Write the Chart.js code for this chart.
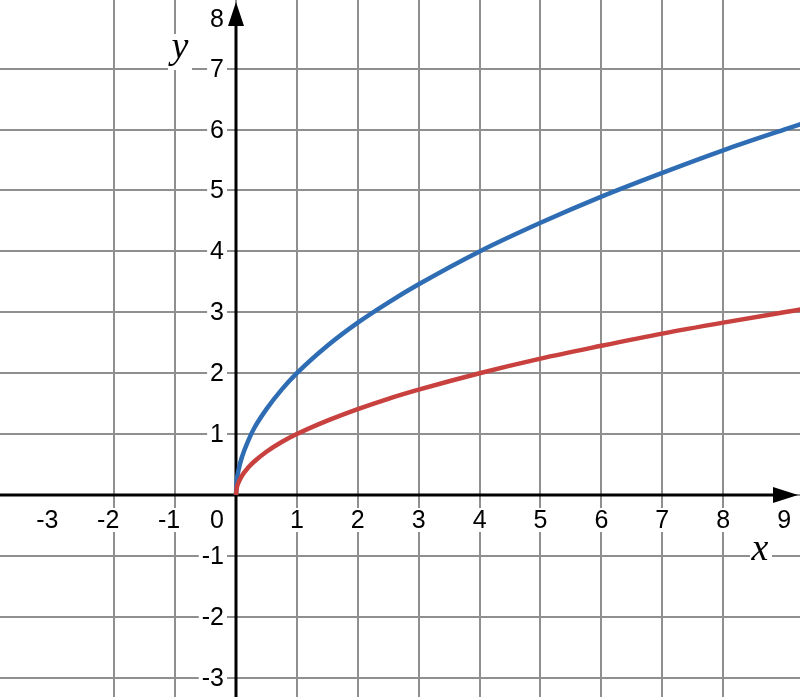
<!DOCTYPE html>
<html lang="en">
<head>
    <meta charset="UTF-8">
    <title>y = √x and y = 2√x</title>
    <script src="https://cdn.jsdelivr.net/npm/chart.js@4.4.1/dist/chart.umd.min.js"></script>
    <style>
        body {
            margin: 0;
            background: #ffffff;
        }
        .chart-wrapper {
            position: relative;
            width: 800px;
            height: 697px;
        }
    </style>
</head>
<body>
    <div class="chart-wrapper">
        <canvas id="plot"></canvas>
    </div>

    <script>
        // Sample points
        const xs = [0, 0.01, 0.04, 0.1, 0.2, 0.3, 0.5, 0.75, 1, 1.5, 2, 2.5, 3, 4, 5, 6, 7, 8, 9, 9.3];
        const redY = [0, 0.1, 0.2, 0.32, 0.45, 0.55, 0.71, 0.87, 1, 1.22, 1.41, 1.58, 1.73, 2, 2.24, 2.45, 2.65, 2.83, 3, 3.05];
        const blueY = [0, 0.2, 0.4, 0.63, 0.89, 1.1, 1.41, 1.73, 2, 2.45, 2.83, 3.16, 3.46, 4, 4.47, 4.9, 5.29, 5.66, 6, 6.1];

        // Tick labels
        const xTickLabels = [-3, -2, -1, 1, 2, 3, 4, 5, 6, 7, 8, 9];
        const yTickLabels = [-3, -2, -1, 1, 2, 3, 4, 5, 6, 7, 8];

        const toPoints = (ys) => xs.map((x, i) => ({ x: x, y: ys[i] }));

        function labelBox(ctx, text, x, y, align) {
            const w = ctx.measureText(text).width;
            let left = x - w / 2;
            if (align === 'right') left = x - w;
            ctx.fillStyle = '#ffffff';
            ctx.fillRect(left - 3, y - 20, w + 6, 24);
            ctx.fillStyle = '#000000';
            ctx.textAlign = align;
            ctx.fillText(text, x, y);
        }

        const axesPlugin = {
            id: 'axesPlugin',
            beforeDatasetsDraw(chart) {
                const ctx = chart.ctx;
                const sx = chart.scales.x;
                const sy = chart.scales.y;
                const ox = sx.getPixelForValue(0);
                const oy = sy.getPixelForValue(0);
                const area = chart.chartArea;

                ctx.save();
                ctx.font = '25px "Liberation Sans", Arial, sans-serif';
                ctx.textBaseline = 'alphabetic';

                // x tick labels
                xTickLabels.forEach(v => {
                    const px = sx.getPixelForValue(v);
                    labelBox(ctx, String(v), v < 0 ? px - 6 : px, oy + 33, 'center');
                });
                labelBox(ctx, '0', ox - 19, oy + 33, 'center');

                // y tick labels
                yTickLabels.forEach(v => {
                    let py = sy.getPixelForValue(v) + 8;
                    if (py < 27) py = 27;
                    labelBox(ctx, String(v), ox - 12, py, 'right');
                });

                // axis names
                ctx.font = 'italic 38px "Liberation Serif", "Times New Roman", serif';
                ctx.fillStyle = '#ffffff';
                ctx.fillRect(168, 34, 24, 36);
                ctx.fillRect(750, 540, 22, 24);
                ctx.fillStyle = '#000000';
                ctx.textAlign = 'center';
                ctx.fillText('y', 180, 58);
                ctx.fillText('x', 760, 560);

                // axes
                ctx.strokeStyle = '#000000';
                ctx.lineWidth = 3;
                ctx.beginPath();
                ctx.moveTo(area.left, oy);
                ctx.lineTo(area.right - 20, oy);
                ctx.moveTo(ox, area.bottom);
                ctx.lineTo(ox, area.top + 20);
                ctx.stroke();

                // arrow heads
                ctx.fillStyle = '#000000';
                ctx.beginPath();
                ctx.moveTo(area.right - 2, oy);
                ctx.lineTo(area.right - 27, oy - 8);
                ctx.lineTo(area.right - 27, oy + 8);
                ctx.closePath();
                ctx.fill();
                ctx.beginPath();
                ctx.moveTo(ox, area.top + 2);
                ctx.lineTo(ox - 8, area.top + 26);
                ctx.lineTo(ox + 8, area.top + 26);
                ctx.closePath();
                ctx.fill();
                ctx.restore();
            }
        };

        const intTicks = (scale) => {
            scale.ticks = scale.ticks.filter(t => Number.isInteger(t.value));
        };

        new Chart(document.getElementById('plot'), {
            type: 'scatter',
            data: {
                datasets: [{
                    label: 'y = √x',
                    data: toPoints(redY),
                    showLine: true,
                    borderColor: '#c8413f',
                    borderWidth: 4.5,
                    pointRadius: 0,
                    cubicInterpolationMode: 'monotone'
                }, {
                    label: 'y = 2√x',
                    data: toPoints(blueY),
                    showLine: true,
                    borderColor: '#2e6db4',
                    borderWidth: 4.5,
                    pointRadius: 0,
                    cubicInterpolationMode: 'monotone'
                }]
            },
            options: {
                responsive: true,
                maintainAspectRatio: false,
                animation: false,
                layout: { padding: 0 },
                plugins: {
                    legend: { display: false },
                    tooltip: { enabled: false }
                },
                scales: {
                    x: {
                        type: 'linear',
                        min: -3.875,
                        max: 9.261,
                        afterBuildTicks: intTicks,
                        ticks: { display: false, stepSize: 1 },
                        border: { display: false },
                        grid: { color: '#8f8f8f', lineWidth: 2, drawTicks: false }
                    },
                    y: {
                        type: 'linear',
                        min: -3.317,
                        max: 8.128,
                        afterBuildTicks: intTicks,
                        ticks: { display: false, stepSize: 1 },
                        border: { display: false },
                        grid: { color: '#8f8f8f', lineWidth: 2, drawTicks: false }
                    }
                }
            },
            plugins: [axesPlugin]
        });
    </script>
</body>
</html>
